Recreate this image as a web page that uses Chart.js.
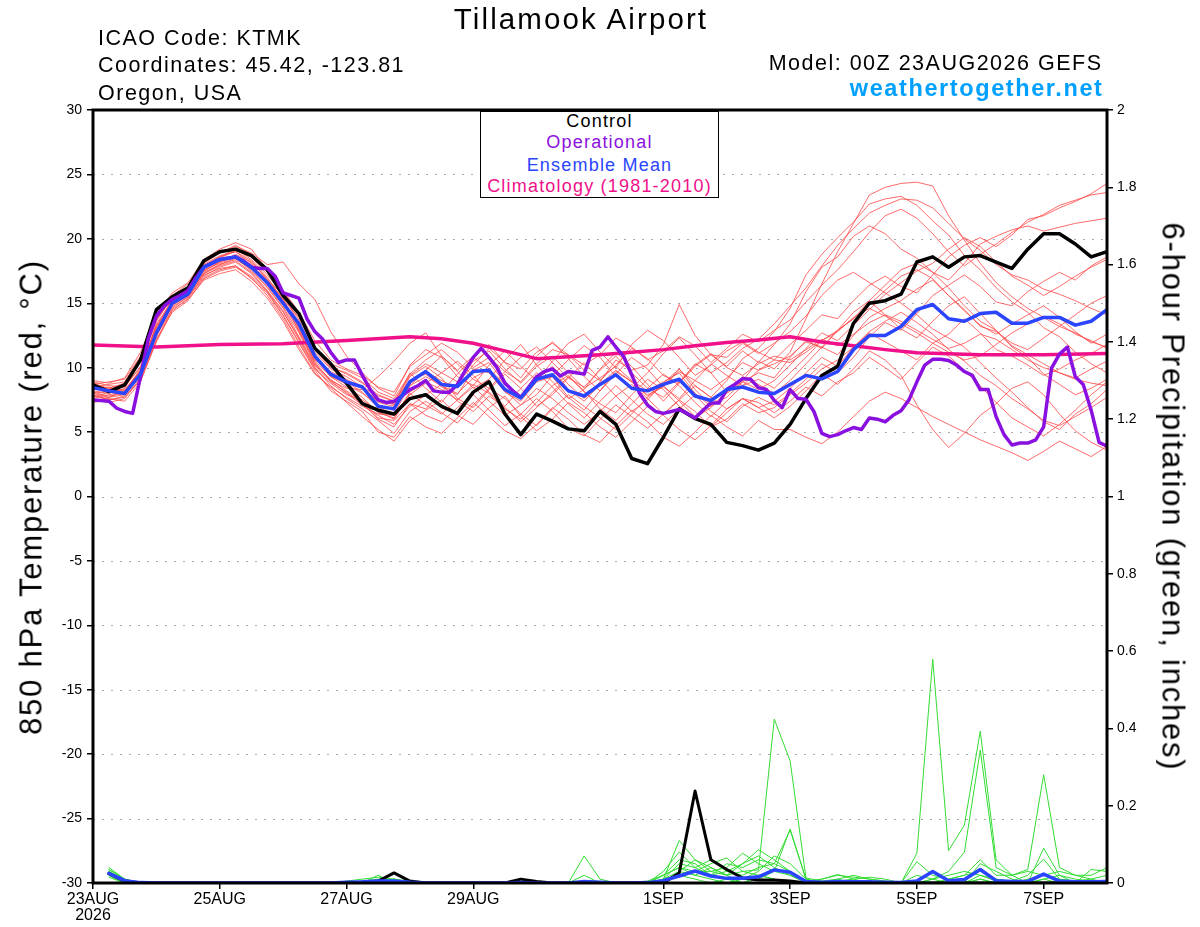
<!DOCTYPE html>
<html>
<head>
<meta charset="utf-8">
<script src="https://cdn.jsdelivr.net/npm/chart.js@4.4.1/dist/chart.umd.min.js"></script>
<style>
  html,body{margin:0;padding:0;background:#fff;}
  #wrap{position:relative;width:1200px;height:927px;overflow:hidden;background:#fff;}
  #c{position:absolute;left:0;top:0;}
  .t{position:absolute;font-family:'Liberation Sans',Arial,sans-serif;line-height:1;white-space:nowrap;color:#000;}
  #legend{position:absolute;left:480px;top:111px;width:239px;height:87px;box-sizing:border-box;border:1px solid #000;background:#fff;}
  .lg{position:absolute;left:480px;width:239px;text-align:center;font-size:18px;letter-spacing:1.2px;}
</style>
</head>
<body>
<div id="wrap">
  <canvas id="c" width="1200" height="927"></canvas>
  <div class="t" style="left:0;width:1162px;text-align:center;top:4px;font-size:29.5px;letter-spacing:2.1px;">Tillamook Airport</div>
  <div class="t" style="left:98px;top:27.8px;font-size:21.5px;letter-spacing:1.5px;">ICAO Code: KTMK</div>
  <div class="t" style="left:98px;top:55.1px;font-size:21.5px;letter-spacing:1.5px;">Coordinates: 45.42, -123.81</div>
  <div class="t" style="left:98px;top:82.5px;font-size:21.5px;letter-spacing:1.5px;">Oregon, USA</div>
  <div class="t" style="right:97.5px;top:52.5px;font-size:21.5px;letter-spacing:1.5px;">Model: 00Z 23AUG2026 GEFS</div>
  <div class="t" style="right:96.5px;top:76.8px;font-size:23.5px;font-weight:bold;letter-spacing:1.6px;color:#00a0ff;">weathertogether.net</div>
  <div id="legend"></div>
  <div class="t lg" style="top:111.5px;color:#000;">Control</div>
  <div class="t lg" style="top:133.1px;color:#8a10e0;">Operational</div>
  <div class="t lg" style="top:155.5px;color:#2a44ff;">Ensemble Mean</div>
  <div class="t lg" style="top:176.8px;color:#f0108a;">Climatology (1981-2010)</div>
  <div class="t" style="left:31px;top:496.5px;font-size:31px;letter-spacing:1.8px;transform:translate(-50%,-50%) rotate(-90deg);">850 hPa Temperature (red, °C)</div>
  <div class="t" style="left:1173px;top:496.5px;font-size:31px;letter-spacing:1.8px;transform:translate(-50%,-50%) rotate(90deg);">6-hour Precipitation (green, inches)</div>
</div>
<script>
// ---------------- DATA ----------------
const hoursPerStep = 6;          // ensemble / control / mean time step
const opHoursPerStep = 3;        // operational time step
const tickHours  = [0, 48, 96, 144, 216, 264, 312, 360];
const tickLabels = [['23AUG','2026'], '25AUG', '27AUG', '29AUG', '1SEP', '3SEP', '5SEP', '7SEP'];

const controlTemp = [8.66,8.14,8.66,10.6,14.5,15.5,16.2,18.3,19.0,19.2, 18.7,17.6,15.6,14.2,11.5,10.3,8.8,7.2,6.7,6.4,
  7.6,7.9,7.0,6.45,8.1,8.9,6.4,4.8,6.4,5.85,5.25,5.1, 6.6,5.6,2.95,2.55,4.6,6.8,6.05,5.6,4.2,3.95,3.6,4.15,
  5.6,7.6,9.4,10.1,13.45,15.0,15.2,15.7,18.2,18.6,17.8,18.6,18.7,18.2,17.7,19.2,20.4,20.4,19.6,18.6,19.0];

const meanTemp = [8.45,8.2,8.0,9.5,12.7,15.0,15.7,17.8,18.4,18.6, 17.8,16.6,15.0,13.4,10.9,9.5,8.9,8.5,7.0,6.8,
  8.9,9.7,8.7,8.55,9.7,9.8,8.3,7.65,9.1,9.45,8.2,7.8, 8.7,9.45,8.4,8.2,8.7,9.1,7.8,7.45,8.3,8.5,8.1,8.0,
  8.7,9.4,9.13,9.7,11.4,12.5,12.5,13.2,14.5,14.9,13.8,13.6,14.2,14.3,13.45,13.45,13.9,13.9,13.3,13.6,14.5];

const operationalTemp = [7.5,7.45,7.4,6.85,6.6,6.45,9.3,12.3, 14.0,14.8,15.3,15.6,16.0,17.0,17.8,18.1,
  18.4,18.5,18.6,18.3,17.8,17.7,17.7,17.1, 15.8,15.6,15.4,13.8,12.8,12.2,11.2,10.4,
  10.6,10.6,9.4,8.3,7.5,7.3,7.4,7.8, 8.3,8.6,9.0,8.2,8.1,8.1,8.7,9.8,
  10.8,11.5,10.8,10.0,8.8,8.2,7.7,8.5, 9.3,9.7,9.9,9.35,9.7,9.6,9.5,11.35,
  11.6,12.4,11.6,10.85,9.45,8.0,7.1,6.6, 6.45,6.6,6.75,6.45,6.1,6.7,7.25,7.25,
  8.3,8.7,9.15,9.1,8.45,8.3,7.45,6.9, 8.3,7.6,7.55,6.6,4.9,4.65,4.8,5.1,
  5.35,5.2,6.1,6.0,5.8,6.3,6.65,7.5, 8.9,10.2,10.65,10.65,10.55,10.2,9.7,9.4,
  8.3,8.3,6.2,4.8,4.0,4.15,4.15,4.4, 5.4,9.96,11.05,11.6,9.3,8.7,6.7,4.2, 3.9];

const climHours  = [0,24,48,72,96,120,132,144,156,168,180,192,204,216,228,240,252,264,276,288,300,312,336,360,384];
const climValues = [11.75,11.6,11.8,11.85,12.1,12.4,12.25,11.9,11.3,10.7,10.85,11.0,11.2,11.4,11.7,11.95,12.15,12.4,12.0,11.7,11.4,11.15,11.0,11.0,11.1];

const tempMember01 = [8.2,8.0,8.4,10.5,13.8,15.3,16.1,17.9,18.6,19.2, 18.4,17.0,15.2,13.1,10.8,9.5,8.9,8.1,6.9,6.4, 8.6,9.8,10.9,9.7,8.4,9.1,10.6,11.8,10.2,8.9,7.6,8.3, 9.9,11.2,10.1,8.7,7.4,8.8,10.3,9.6,8.1,9.0,10.5,9.9, 11.2,13.8,16.5,19.0,21.2,23.4,24.0,24.3,24.4,24.1,21.8,19.9,18.1,16.6,15.5,14.6,13.9,13.2,12.7,12.0,11.6];
const tempMember02 = [7.6,7.9,8.1,9.8,12.9,14.8,15.6,17.4,18.0,18.5, 17.6,16.2,14.6,12.4,10.2,9.1,8.2,7.4,6.1,5.9, 7.2,6.8,8.1,9.5,10.8,9.9,8.2,7.1,7.9,9.4,10.6,11.7, 10.8,9.3,8.4,9.6,11.1,12.3,11.0,9.6,10.4,11.5,12.2,13.4, 14.8,16.2,17.9,19.5,20.8,22.0,22.6,23.1,23.0,22.4,21.2,20.0,19.1,18.0,17.2,16.8,16.1,15.7,15.2,14.6,14.1];
const tempMember03 = [8.5,8.7,8.9,10.8,14.2,15.6,16.5,18.2,18.9,19.4, 18.9,18.0,18.2,16.5,15.3,12.8,10.9,9.6,8.4,7.8, 10.2,11.4,10.8,9.3,8.6,10.2,11.3,10.1,9.0,10.5,11.9,12.6, 11.2,10.0,11.8,12.9,12.1,10.8,9.4,10.2,11.3,12.0,11.2,10.6, 11.8,12.9,14.1,13.8,15.2,16.4,17.1,16.3,15.8,17.2,18.6,19.5,20.1,19.4,20.3,21.5,21.8,22.4,22.9,23.5,24.3];
const tempMember04 = [7.9,7.5,7.7,9.2,12.2,14.3,15.2,16.9,17.5,17.8, 17.0,15.6,13.8,11.6,9.6,8.4,7.3,6.2,5.2,4.3, 5.9,6.7,7.5,6.3,5.6,6.9,7.8,6.2,5.1,6.0,7.3,6.5, 5.4,4.6,5.8,7.0,6.3,5.2,4.4,5.5,6.8,7.6,6.9,6.1, 7.0,8.2,9.5,8.7,9.9,11.3,10.6,9.4,7.1,5.2,3.8,4.9,6.3,7.2,8.4,8.9,7.9,6.4,5.1,4.2,3.6];
const tempMember05 = [8.8,8.4,8.0,9.4,12.6,15.0,15.8,17.7,18.4,18.7, 17.9,16.8,15.3,13.9,11.4,10.0,9.6,8.9,7.6,7.1, 9.6,8.4,7.3,8.8,10.2,11.5,10.4,9.2,10.9,12.0,10.7,9.3, 8.2,9.5,10.8,9.9,8.5,7.6,9.0,10.3,9.4,8.6,9.8,10.3, 10.9,12.0,11.6,12.9,13.8,15.2,16.4,17.6,18.1,17.4,16.2,14.8,13.6,12.9,11.7,11.0,10.3,9.6,9.2,9.9,10.5];
const tempMember06 = [8.0,8.2,8.6,10.0,13.2,15.1,15.9,17.5,18.2,18.8, 18.2,16.9,15.6,13.7,10.9,9.3,8.8,8.6,7.3,7.0, 9.3,10.1,9.2,7.6,6.9,8.3,9.5,8.4,7.0,7.9,9.2,10.4, 9.1,7.8,6.6,7.5,8.8,9.9,8.3,7.1,7.7,8.9,9.6,9.2, 10.8,12.1,11.5,12.9,14.3,15.2,14.1,13.0,12.3,13.6,14.8,15.5,14.2,12.9,11.6,10.8,9.5,8.7,7.9,8.4,9.1];
const tempMember07 = [7.4,7.7,7.9,9.6,13.0,15.4,16.3,18.0,18.7,19.0, 18.1,16.4,14.9,12.9,10.4,9.0,8.0,7.1,6.3,5.6, 7.0,7.9,8.7,7.4,6.6,7.8,6.9,5.8,6.9,8.1,9.3,8.2, 6.8,5.9,7.2,8.4,9.5,8.6,7.3,6.2,7.4,8.6,9.1,8.4, 9.6,10.8,12.1,12.9,13.8,14.9,16.0,17.1,17.6,16.9,15.6,14.5,13.2,12.8,11.9,11.4,12.3,13.2,14.1,15.0,15.6];
const tempMember08 = [8.6,8.3,8.7,10.4,13.6,15.5,16.2,17.8,18.5,19.1, 18.6,17.2,15.7,13.4,11.2,9.9,9.3,8.5,7.8,7.4, 9.0,9.5,8.5,7.9,9.8,10.4,8.8,7.6,9.1,10.1,8.7,7.6, 8.9,10.6,9.8,10.2,11.8,14.9,12.5,11.0,10.1,11.3,10.4,11.8, 13.4,15.9,17.8,18.6,20.2,21.0,20.4,19.2,18.5,17.4,16.8,18.1,19.6,20.2,20.7,21.0,20.6,20.9,21.2,21.4,21.6];
const tempMember09 = [7.8,7.6,7.4,8.9,12.1,14.6,15.5,17.1,17.8,18.2, 17.3,15.9,14.1,12.0,9.9,8.8,7.9,7.5,6.6,6.0, 7.9,8.8,9.6,10.5,9.4,8.1,7.0,8.4,9.6,8.5,7.2,6.1, 7.4,8.6,7.5,6.4,5.6,6.8,7.9,6.6,5.8,7.0,7.7,7.1, 8.0,9.1,10.3,9.6,10.8,12.4,13.5,12.9,14.2,15.6,16.4,17.2,16.3,15.1,14.8,15.9,16.7,17.4,16.8,17.9,18.6];
const tempMember10 = [9.0,8.8,9.2,11.2,14.1,15.8,16.6,18.4,19.2,19.7, 19.2,17.6,16.0,14.3,12.1,10.6,9.9,9.4,8.5,8.1, 10.1,11.0,11.9,11.2,10.0,10.8,9.7,8.9,10.3,11.4,11.0,9.8, 9.0,10.2,11.5,10.7,9.4,8.8,10.1,11.0,10.8,11.9,11.1,11.9, 12.8,14.0,15.6,16.8,17.4,16.6,15.8,15.0,14.1,13.0,12.3,11.6,10.4,9.2,8.1,6.9,5.8,5.2,6.4,7.2,8.3];
const tempMember11 = [7.5,7.3,7.6,9.1,12.4,14.9,15.7,17.3,17.9,18.3, 17.4,16.0,14.4,12.2,10.0,8.6,7.6,6.8,5.9,4.9, 6.6,7.4,6.5,5.7,7.1,8.4,7.6,6.4,5.5,6.8,7.9,7.0, 6.1,5.2,6.4,7.7,8.6,7.4,6.2,5.4,6.5,7.6,6.9,7.4, 8.4,9.6,10.8,10.1,11.6,12.7,12.0,11.3,10.6,11.9,12.6,13.8,12.7,11.4,10.9,10.2,9.4,9.9,10.6,11.1,11.8];
const tempMember12 = [8.3,8.5,8.2,9.9,13.4,15.2,16.0,17.6,18.1,18.6, 17.8,16.6,15.1,13.2,10.7,9.4,8.7,8.0,7.1,6.7, 8.8,9.7,9.0,8.4,9.9,9.6,8.1,7.4,8.9,9.3,7.7,6.7, 8.2,9.7,8.9,7.9,8.5,9.9,8.6,7.7,9.0,10.7,11.5,12.8, 14.6,17.2,18.8,20.1,21.3,22.7,23.1,23.3,22.6,21.4,20.3,18.7,17.6,16.2,15.1,14.3,13.1,12.4,11.2,10.3,9.6];
const tempMember13 = [8.1,7.8,8.0,9.5,12.8,14.7,15.5,17.2,17.7,17.9, 16.9,15.8,14.0,11.9,9.8,8.2,7.4,6.6,5.0,4.6, 6.2,5.4,4.9,6.1,7.3,6.2,5.1,4.5,5.6,6.9,6.0,4.8, 4.2,5.5,6.7,5.8,4.6,3.9,5.0,6.3,5.4,4.7,5.9,5.2, 5.2,4.6,4.1,5.0,6.2,7.4,8.1,7.6,6.9,6.2,5.6,5.0,4.4,3.9,3.4,2.8,3.5,4.3,3.7,3.1,3.9];
const tempMember14 = [8.7,8.9,9.1,10.9,13.9,15.5,16.3,18.1,18.9,19.5, 18.8,17.4,15.9,14.1,11.6,10.3,9.8,9.2,8.1,7.6, 9.5,10.6,11.4,10.3,9.1,8.4,9.7,10.8,11.6,10.4,9.2,8.5, 9.8,10.9,9.6,8.4,7.7,8.9,10.2,11.1,10.0,9.4,10.3,10.9, 10.6,11.4,12.2,11.7,12.6,13.5,14.1,13.6,12.9,12.2,11.5,11.9,12.6,12.2,11.4,10.6,10.0,9.6,9.1,8.8,8.6];
const tempMember15 = [7.7,8.1,8.3,9.7,12.5,14.5,15.3,16.8,17.3,17.6, 16.7,15.4,13.6,11.4,9.5,8.5,7.7,7.0,6.4,6.3, 8.0,7.1,6.4,7.5,8.7,8.0,6.8,6.0,7.3,8.6,9.4,8.1, 7.2,6.5,7.9,9.1,8.3,7.0,6.1,6.9,8.1,9.3,8.7,8.0, 9.0,10.3,11.6,11.0,12.5,13.9,14.6,15.2,16.1,16.8,15.6,14.4,13.3,12.6,13.4,14.1,14.8,13.9,12.8,11.9,12.6];
const tempMember16 = [8.4,8.1,7.9,9.3,12.7,15.1,15.9,17.7,18.3,18.5, 17.5,16.3,14.7,12.7,10.3,9.0,8.4,8.3,9.3,10.5, 11.9,12.7,10.9,9.8,10.9,11.8,10.4,9.9,11.2,11.9,11.0,10.2, 11.0,12.3,11.6,10.6,11.3,12.4,11.7,10.4,11.5,12.6,12.0,12.9, 13.7,15.1,16.4,17.6,19.0,20.5,21.8,22.3,21.6,20.4,19.0,17.9,18.8,19.6,20.5,21.3,21.9,22.6,23.0,23.4,23.6];
const tempMember17 = [8.9,8.6,8.5,10.1,13.1,14.9,15.7,17.3,18.0,18.4, 17.7,16.5,15.0,13.5,11.5,10.1,9.5,8.8,7.9,7.4, 9.4,10.3,9.6,8.9,10.5,11.3,9.9,8.8,10.1,10.9,9.6,8.4, 9.2,10.1,9.0,8.2,8.9,9.6,8.0,7.0,8.0,8.9,8.3,9.0, 10.2,11.5,12.7,12.1,13.3,14.5,15.7,16.6,17.5,18.1,19.2,20.1,19.4,18.2,17.1,16.4,15.6,16.3,17.1,17.8,18.4];
const tempMember18 = [7.3,7.5,7.8,9.0,12.0,14.4,15.4,17.0,17.6,17.9, 17.1,15.9,14.3,12.3,10.1,8.9,8.1,7.2,6.0,5.4, 7.2,6.3,5.8,6.9,7.9,6.7,5.5,6.4,7.6,6.6,5.3,4.7, 6.0,7.1,6.2,5.3,6.4,7.5,6.6,5.4,6.0,7.2,6.5,6.9, 7.9,8.8,9.9,10.6,11.6,12.8,13.6,14.3,13.5,12.6,11.4,10.5,9.4,8.6,7.6,6.8,5.9,5.5,6.2,6.9,7.7];
const tempMember19 = [8.6,8.4,8.8,10.6,13.7,15.4,16.2,17.9,18.6,19.0, 18.3,16.8,15.4,13.0,10.6,9.7,9.1,8.4,7.4,7.2, 8.6,9.3,8.6,8.0,9.2,9.9,8.7,7.8,9.3,9.9,8.3,7.4, 8.7,9.8,8.9,7.8,8.7,9.7,9.0,8.3,9.2,10.4,9.8,10.6, 10.4,11.2,12.1,12.8,13.9,14.6,14.0,13.4,12.7,11.9,11.2,10.6,10.9,11.8,12.7,13.4,14.0,13.4,12.6,12.1,11.5];
const tempMember20 = [8.0,7.7,8.2,9.8,13.3,15.0,15.8,17.5,18.2,18.7, 18.0,16.7,15.2,12.8,10.5,9.3,8.5,7.7,6.5,6.1, 8.1,8.9,8.3,7.5,8.5,7.4,6.3,7.1,8.4,7.6,6.5,5.6, 6.6,7.8,8.7,7.6,6.4,7.5,8.6,7.7,6.8,7.6,7.3,6.5, 7.4,8.5,7.8,8.9,9.6,10.8,10.0,9.1,10.4,11.6,10.9,9.8,8.6,7.3,6.1,5.4,4.7,5.6,6.7,7.9,8.9];

// 6-hour precipitation, first value = accumulation ending 23AUG 06Z
const precipControl = [0.024,0.005,0,0,0,0,0,0, 0,0,0,0,0,0,0,0, 0,0.005,0.026,0.005,0,0,0,0, 0,0,0.01,0.004,0,0,0,0, 0,0,0,0,0.026,0.238,0.06,0.035, 0.013,0.008,0.008,0.005,0,0,0,0, 0,0,0,0,0,0,0,0, 0,0,0,0,0,0,0,0];
const precipMean = [0.025,0.006,0.001,0,0,0,0,0, 0,0,0,0,0,0,0,0.002, 0.003,0.005,0.005,0.002,0,0,0,0, 0,0,0.001,0,0,0,0.004,0.002, 0,0,0.001,0.006,0.018,0.031,0.018,0.012, 0.012,0.016,0.034,0.028,0.004,0.002,0.004,0.003, 0.003,0.002,0.001,0.005,0.03,0.006,0.009,0.035, 0.006,0.004,0.004,0.023,0.005,0.003,0.003,0.004];
const precipMember01 = [0.03,0.005,0,0,0,0,0,0, 0,0,0,0,0,0,0,0, 0,0.005,0.01,0,0,0,0,0, 0,0,0,0,0,0,0,0, 0,0,0,0.01,0.02,0.01,0,0.01, 0,0.02,0.01,0,0,0,0.01,0, 0,0,0,0.077,0.579,0.084,0.15,0.393, 0.06,0.02,0,0.01,0,0,0,0];
const precipMember02 = [0.035,0.01,0,0,0,0,0,0, 0,0,0,0,0,0,0,0.005, 0.01,0.015,0.01,0,0,0,0,0, 0,0,0,0,0,0,0,0, 0,0,0,0,0.03,0.06,0.04,0.02, 0.03,0.034,0.424,0.316,0.013,0.005,0.01,0.02, 0.01,0.005,0,0,0.01,0,0,0.02, 0.01,0,0,0,0,0,0,0];
const precipMember03 = [0.02,0,0,0,0,0,0,0, 0,0,0,0,0,0,0,0, 0,0,0.01,0.005,0,0,0,0, 0,0,0,0,0,0,0,0, 0,0,0,0.02,0.04,0.03,0.05,0.065, 0.03,0.02,0.01,0,0,0,0,0, 0,0,0,0.02,0.01,0.03,0.08,0.344, 0.04,0.02,0.035,0.28,0.04,0.02,0.01,0];
const precipMember04 = [0.04,0.01,0,0,0,0,0,0, 0,0,0,0,0,0,0,0, 0,0,0,0,0,0,0,0, 0,0,0,0,0,0,0.07,0.01, 0,0,0,0.01,0.11,0.06,0.03,0.04, 0.077,0.05,0.03,0.14,0.01,0,0,0, 0,0,0,0,0,0,0,0.05, 0.03,0.01,0,0.09,0.02,0,0.035,0.03];
const precipMember05 = [0.025,0.005,0,0,0,0,0,0, 0,0,0,0,0,0,0,0, 0,0.02,0,0,0,0,0,0, 0,0,0,0,0,0,0.02,0, 0,0,0,0.03,0.08,0.04,0.02,0.03, 0.05,0.086,0.06,0.03,0,0.01,0.022,0.01, 0,0,0,0.055,0.02,0.01,0.02,0.03, 0.01,0.005,0.02,0.062,0.01,0.005,0.01,0.02];
const precipMember06 = [0.03,0.008,0,0,0,0,0,0, 0,0,0,0,0,0,0,0, 0.005,0.01,0.005,0,0,0,0,0, 0,0,0,0,0,0,0,0, 0,0,0.005,0.02,0.06,0.05,0.02,0.05, 0.04,0.06,0.05,0.03,0.005,0,0.005,0.01, 0.015,0.01,0,0,0,0.01,0.02,0.06, 0.02,0.02,0.03,0.02,0.03,0.02,0.02,0.04];
const precipMember07 = [0.02,0,0,0,0,0,0,0, 0,0,0,0,0,0,0,0, 0,0,0.01,0,0,0,0,0, 0,0,0,0,0,0,0,0, 0,0,0,0.01,0.05,0.04,0.06,0.03, 0.02,0.04,0.05,0.137,0.01,0,0,0, 0,0,0,0,0,0,0,0.01, 0,0,0,0,0,0,0,0];
const precipMember08 = [0.035,0.01,0,0,0,0,0,0, 0,0,0,0,0,0,0,0, 0,0,0,0,0,0,0,0, 0,0,0,0,0,0,0,0, 0,0,0,0,0.02,0.03,0.03,0.02, 0.05,0.07,0.04,0.02,0,0,0,0, 0,0,0,0,0,0,0,0, 0,0,0.01,0.02,0.01,0,0,0];
const precipMember09 = [0.015,0,0,0,0,0,0,0, 0,0,0,0,0,0,0,0, 0,0,0,0,0,0,0,0, 0,0,0,0,0,0,0,0, 0,0,0,0.02,0.04,0.02,0.01,0, 0.01,0.03,0.07,0.05,0.01,0,0,0, 0,0,0,0,0.01,0.02,0.03,0.02, 0.005,0,0,0.01,0.02,0.01,0.005,0];
const precipMember10 = [0.03,0.005,0,0,0,0,0,0, 0,0,0,0,0,0,0,0, 0,0,0,0,0,0,0,0, 0,0,0,0,0,0,0,0, 0,0,0,0.01,0.03,0.02,0.04,0.02, 0,0.01,0.03,0.02,0.005,0.01,0.02,0.015, 0.01,0.005,0,0,0,0,0,0.01, 0,0,0,0,0,0,0,0];

// ---------------- CHART ----------------
const tempMembers = [tempMember01,tempMember02,tempMember03,tempMember04,tempMember05,tempMember06,tempMember07,tempMember08,tempMember09,tempMember10,
                     tempMember11,tempMember12,tempMember13,tempMember14,tempMember15,tempMember16,tempMember17,tempMember18,tempMember19,tempMember20];
const precipMembers = [precipMember01,precipMember02,precipMember03,precipMember04,precipMember05,precipMember06,precipMember07,precipMember08,precipMember09,precipMember10];

function series(values, step, offset) {
  return values.map((v, i) => ({ x: (i + offset) * step, y: v }));
}

const datasets = [];
tempMembers.forEach(m => datasets.push({ data: series(m, hoursPerStep, 0), borderColor: 'rgba(255,70,70,0.8)', borderWidth: 1, yAxisID: 'y', order: 20 }));
precipMembers.forEach(m => datasets.push({ data: series(m, hoursPerStep, 1), borderColor: 'rgb(50,220,50)', borderWidth: 1, yAxisID: 'y2', order: 19 }));
datasets.push({ data: series(precipControl, hoursPerStep, 1), borderColor: '#000', borderWidth: 3, yAxisID: 'y2', order: 6 });
datasets.push({ data: series(precipMean, hoursPerStep, 1), borderColor: '#2a44ff', borderWidth: 3.5, yAxisID: 'y2', order: 5 });
datasets.push({ data: climHours.map((h, i) => ({ x: h, y: climValues[i] })), borderColor: '#f0108a', borderWidth: 3.5, yAxisID: 'y', order: 4 });
datasets.push({ data: series(controlTemp, hoursPerStep, 0), borderColor: '#000', borderWidth: 3.5, yAxisID: 'y', order: 3 });
datasets.push({ data: series(operationalTemp, opHoursPerStep, 0), borderColor: '#8a10e0', borderWidth: 3.5, yAxisID: 'y', order: 2 });
datasets.push({ data: series(meanTemp, hoursPerStep, 0), borderColor: '#2a44ff', borderWidth: 3.5, yAxisID: 'y', order: 1 });

const dottedGrid = {
  id: 'dottedGrid',
  beforeDatasetsDraw(chart) {
    const { ctx, chartArea: a, scales: { y } } = chart;
    ctx.save();
    ctx.strokeStyle = '#a8a8a8';
    ctx.lineWidth = 1;
    ctx.setLineDash([2, 7]);
    y.ticks.forEach(t => {
      if (t.value <= y.min || t.value >= y.max) return;
      const py = Math.round(y.getPixelForValue(t.value)) + 0.5;
      ctx.beginPath(); ctx.moveTo(a.left, py); ctx.lineTo(a.right, py); ctx.stroke();
    });
    ctx.restore();
  }
};
const frame = {
  id: 'frame',
  afterDatasetsDraw(chart) {
    const { ctx, chartArea: a } = chart;
    ctx.save();
    ctx.strokeStyle = '#000'; ctx.lineWidth = 3;
    ctx.strokeRect(a.left, a.top, a.right - a.left, a.bottom - a.top);
    ctx.restore();
  }
};

Chart.defaults.font.family = "'Liberation Sans', Arial, sans-serif";
Chart.defaults.color = '#000';

const tickGrid = { drawOnChartArea: false, drawTicks: true, tickLength: 6, color: '#000', lineWidth: 1.5 };

new Chart(document.getElementById('c'), {
  type: 'line',
  data: { datasets },
  plugins: [dottedGrid, frame],
  options: {
    responsive: false, animation: false, devicePixelRatio: 1,
    layout: { padding: { top: 110, left: 0, right: 0, bottom: 0 } },
    plugins: { legend: { display: false }, tooltip: { enabled: false } },
    elements: { point: { radius: 0 }, line: { tension: 0, borderJoinStyle: 'round', borderCapStyle: 'round' } },
    scales: {
      x: {
        type: 'linear', min: 0, max: 384,
        afterBuildTicks(s) { s.ticks = tickHours.map(v => ({ value: v })); },
        afterFit(s) { s.height = 44; },
        ticks: { autoSkip: false, maxRotation: 0, minRotation: 0, color: '#000', font: { size: 16, lineHeight: 1.0 }, padding: 3,
          callback(v) { const i = tickHours.indexOf(v); return i >= 0 ? tickLabels[i] : ''; } },
        grid: tickGrid, border: { display: false }
      },
      y: {
        position: 'left', min: -30, max: 30,
        afterFit(s) { s.width = 93; },
        ticks: { stepSize: 5, color: '#000', font: { size: 14 }, padding: 5 },
        grid: tickGrid, border: { display: false }
      },
      y2: {
        position: 'right', min: 0, max: 2,
        afterFit(s) { s.width = 93; },
        ticks: { stepSize: 0.2, color: '#000', font: { size: 14 }, padding: 4,
          callback(v) { return String(Math.round(v * 10) / 10); } },
        grid: tickGrid, border: { display: false }
      }
    }
  }
});
</script>
</body>
</html>
